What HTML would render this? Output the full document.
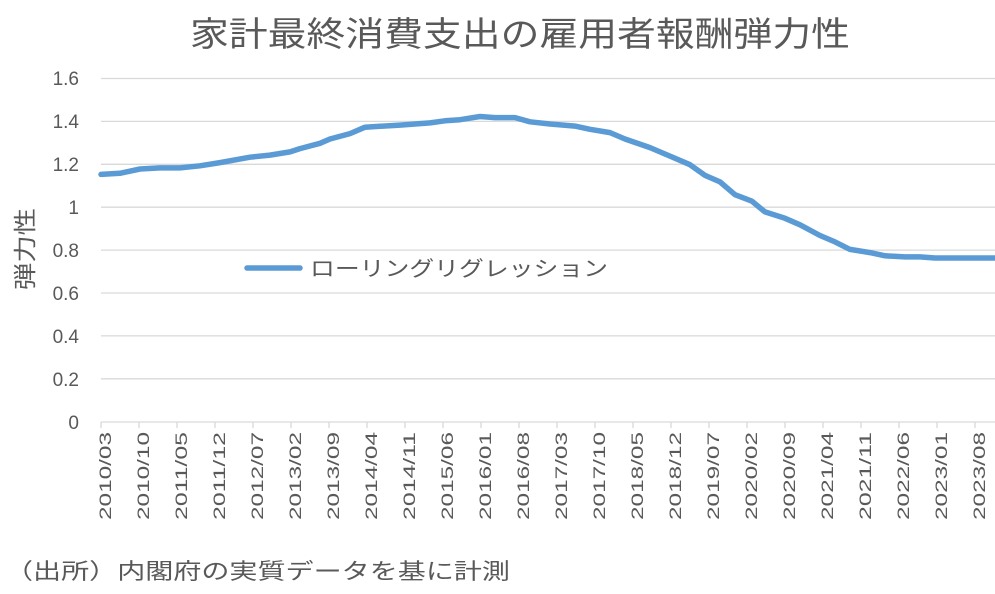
<!DOCTYPE html>
<html><head><meta charset="utf-8"><style>
body{margin:0;background:#fff;width:995px;height:589px;overflow:hidden}
svg text{font-family:"Liberation Sans","Noto Sans CJK JP",sans-serif;fill:#595959}
</style></head><body>
<svg width="995" height="589" xmlns="http://www.w3.org/2000/svg">
<text x="190" y="46" font-size="34" textLength="660" lengthAdjust="spacingAndGlyphs">家計最終消費支出の雇用者報酬弾力性</text>
<g stroke="#d9d9d9" stroke-width="1.3">
<line x1="101" x2="995" y1="78.5" y2="78.5"/><line x1="101" x2="995" y1="121.4" y2="121.4"/>
<line x1="101" x2="995" y1="164.3" y2="164.3"/><line x1="101" x2="995" y1="207.2" y2="207.2"/>
<line x1="101" x2="995" y1="250.1" y2="250.1"/><line x1="101" x2="995" y1="293" y2="293"/>
<line x1="101" x2="995" y1="335.9" y2="335.9"/><line x1="101" x2="995" y1="378.8" y2="378.8"/>
<line x1="101" x2="995" y1="422" y2="422"/>
</g>
<g font-size="19" text-anchor="end">
<text x="79" y="85">1.6</text><text x="79" y="128">1.4</text><text x="79" y="171">1.2</text>
<text x="79" y="214">1</text><text x="79" y="257">0.8</text><text x="79" y="300">0.6</text>
<text x="79" y="343">0.4</text><text x="79" y="386">0.2</text><text x="79" y="429">0</text>
</g>
<text transform="translate(33,290) rotate(-90)" font-size="23" textLength="82" lengthAdjust="spacingAndGlyphs">弾力性</text>
<g id="ticks" stroke="#d9d9d9" stroke-width="1.3"></g>
<g id="labels" font-size="17"></g>
<polyline fill="none" stroke="#5b9bd5" stroke-width="5.5" stroke-linejoin="round" stroke-linecap="round" id="ln"/>
<line x1="247" x2="300" y1="268" y2="268" stroke="#5b9bd5" stroke-width="5.5" stroke-linecap="round"/>
<text x="310" y="276" font-size="21" textLength="298" lengthAdjust="spacingAndGlyphs">ローリングリグレッション</text>
<text x="5" y="579" font-size="22" textLength="505" lengthAdjust="spacingAndGlyphs">（出所）内閣府の実質データを基に計測</text>
</svg>
<script>
var lab=["2010/03","2010/10","2011/05","2011/12","2012/07","2013/02","2013/09","2014/04","2014/11","2015/06","2016/01","2016/08","2017/03","2017/10","2018/05","2018/12","2019/07","2020/02","2020/09","2021/04","2021/11","2022/06","2023/01","2023/08"];
var t=document.getElementById('ticks'),l=document.getElementById('labels'),ns="http://www.w3.org/2000/svg";
lab.forEach(function(s,k){var x=101+38*k;
var ln=document.createElementNS(ns,'line');ln.setAttribute('x1',x);ln.setAttribute('x2',x);ln.setAttribute('y1',422);ln.setAttribute('y2',428);t.appendChild(ln);
var tx=document.createElementNS(ns,'text');tx.setAttribute('transform','translate('+(x+10)+',432) rotate(-90)');tx.setAttribute('text-anchor','end');tx.setAttribute('textLength','88');tx.setAttribute('lengthAdjust','spacingAndGlyphs');tx.textContent=s;l.appendChild(tx);});
var d=[[101,1.155],[120,1.16],[140,1.18],[160,1.185],[180,1.185],[200,1.195],[220,1.21],[250,1.235],[270,1.245],[290,1.26],[300,1.275],[320,1.30],[330,1.32],[350,1.345],[365,1.375],[400,1.385],[430,1.395],[445,1.405],[460,1.41],[480,1.425],[495,1.42],[515,1.42],[530,1.40],[550,1.39],[575,1.38],[590,1.365],[610,1.35],[625,1.32],[650,1.28],[670,1.24],[690,1.20],[705,1.15],[720,1.12],[735,1.06],[752,1.03],[765,0.98],[785,0.95],[800,0.92],[820,0.87],[835,0.84],[850,0.805],[870,0.79],[885,0.775],[905,0.77],[920,0.77],[935,0.765],[995,0.765]];
document.getElementById('ln').setAttribute('points',d.map(function(p){return p[0]+','+(422-p[1]*214.4).toFixed(1)}).join(' '));
</script>
</body></html>
